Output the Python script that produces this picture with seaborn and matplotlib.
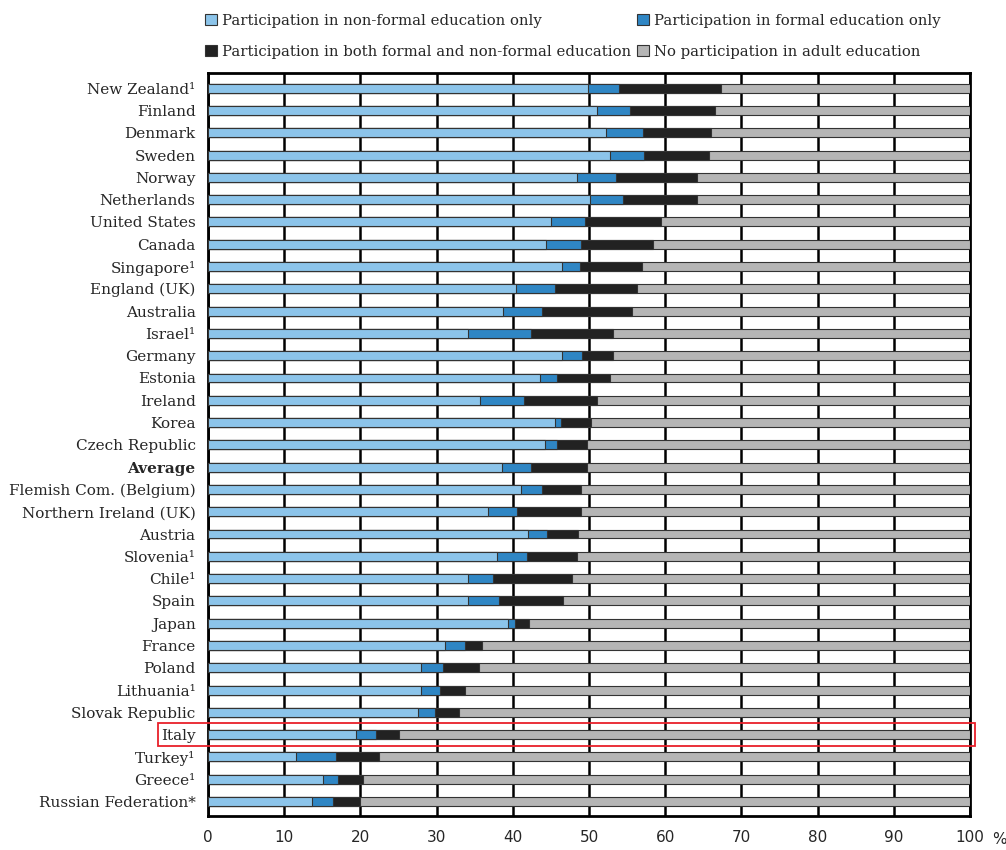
import matplotlib
matplotlib.use("Agg")
import matplotlib.pyplot as plt
import matplotlib.transforms as mtransforms
from matplotlib.patches import Patch, Rectangle
import pandas as pd
import seaborn as sns

countries = [
    "New Zealand¹", "Finland", "Denmark", "Sweden", "Norway", "Netherlands",
    "United States", "Canada", "Singapore¹", "England (UK)", "Australia",
    "Israel¹", "Germany", "Estonia", "Ireland", "Korea", "Czech Republic",
    "Average", "Flemish Com. (Belgium)", "Northern Ireland (UK)", "Austria",
    "Slovenia¹", "Chile¹", "Spain", "Japan", "France", "Poland",
    "Lithuania¹", "Slovak Republic", "Italy", "Turkey¹", "Greece¹",
    "Russian Federation*",
]
non_formal = [49.9, 51.0, 52.2, 52.8, 48.4, 50.1, 45.0, 44.3, 46.5, 40.4, 38.7,
              34.1, 46.5, 43.6, 35.7, 45.5, 44.2, 38.6, 41.1, 36.7, 42.0, 37.9,
              34.1, 34.1, 39.4, 31.1, 27.9, 28.0, 27.5, 19.4, 11.5, 15.1, 13.6]
formal_only = [4.0, 4.4, 4.9, 4.4, 5.1, 4.4, 4.5, 4.7, 2.3, 5.1, 5.1,
               8.3, 2.6, 2.2, 5.8, 0.8, 1.6, 3.8, 2.7, 3.9, 2.5, 4.0,
               3.3, 4.1, 0.9, 2.6, 2.9, 2.5, 2.3, 2.7, 5.3, 2.0, 2.8]
both = [13.4, 11.1, 8.9, 8.5, 10.7, 9.7, 9.9, 9.4, 8.2, 10.8, 11.8,
        10.7, 4.0, 7.0, 9.5, 3.9, 3.9, 7.3, 5.1, 8.3, 4.1, 6.5,
        10.4, 8.4, 1.8, 2.2, 4.7, 3.2, 3.2, 2.9, 5.7, 3.3, 3.5]
no_participation = [32.7, 33.5, 34.0, 34.3, 35.8, 35.8, 40.6, 41.6, 43.0, 43.7, 44.4,
                    46.9, 46.9, 47.2, 49.0, 49.8, 50.3, 50.3, 51.1, 51.1, 51.4, 51.6,
                    52.2, 53.4, 57.9, 64.1, 64.5, 66.3, 67.0, 75.0, 77.5, 79.6, 80.1]

legend_labels = [
    "Participation in non-formal education only",
    "Participation in formal education only",
    "Participation in both formal and non-formal education",
    "No participation in adult education",
]
colors = ["#8cc4ea", "#2f86c4", "#222222", "#b5b5b5"]
highlight = "Italy"

df = pd.DataFrame({"country": countries, "non_formal": non_formal,
                   "formal": formal_only, "both": both, "none": no_participation})
df["end1"] = df["non_formal"]
df["end2"] = df["end1"] + df["formal"]
df["end3"] = df["end2"] + df["both"]
df["end4"] = df["end3"] + df["none"]

sns.set_style("white")
plt.rcParams["font.family"] = ["DejaVu Serif"]

fig = plt.figure(figsize=(10.06, 8.5), dpi=100)
ax = fig.add_axes([0.2068, 0.04, 0.7574, 0.8741])

# draw longest first so shorter segments sit on top
for col, c in zip(["end4", "end3", "end2", "end1"], colors[::-1]):
    sns.barplot(data=df, x=col, y="country", orient="h", color=c, saturation=1,
                width=0.4, edgecolor="#333333", linewidth=0.8, ax=ax, zorder=3)

ax.set_xlim(0, 100)
ax.set_ylim(32.65, -0.68)
ax.set_xlabel("")
ax.set_ylabel("")
ax.set_xticks(range(0, 101, 10))
ax.set_xticklabels([str(v) for v in range(0, 101, 10)], fontfamily="DejaVu Sans", fontsize=11)
ax.xaxis.grid(True, color="black", lw=1.8)
ax.yaxis.grid(False)
ax.set_axisbelow(True)
ax.tick_params(axis="x", direction="out", length=7, width=1.8, color="black", pad=3)
ax.tick_params(axis="y", length=0, pad=9, labelsize=11)
for lab in ax.get_yticklabels():
    if lab.get_text() == "Average":
        lab.set_fontweight("bold")
for s in ax.spines.values():
    s.set_color("black")
    s.set_linewidth(2)

trans = mtransforms.blended_transform_factory(ax.transData, ax.transAxes)
ax.text(102.9, -0.031, "%", transform=trans, ha="left", va="center",
        fontfamily="DejaVu Sans", fontsize=11)

# red box around the Italy row
i = countries.index(highlight)
ax.add_patch(Rectangle((-6.6, i - 0.5), 107.3, 1.0, fill=False, edgecolor="#e8202a",
                       lw=1.3, clip_on=False, zorder=5))

handles = [Patch(facecolor=c, edgecolor="#333333", lw=0.8) for c in colors]
order = [0, 2, 1, 3]
fig.legend([handles[k] for k in order], [legend_labels[k] for k in order],
           ncol=2, loc="upper left", bbox_to_anchor=(0.204, 0.984), frameon=False,
           fontsize=10.7, handlelength=0.78, handleheight=0.78, handletextpad=0.35,
           columnspacing=0.4, labelspacing=1.15, borderpad=0, borderaxespad=0)

fig.savefig("out.png", dpi=100, facecolor="white")
